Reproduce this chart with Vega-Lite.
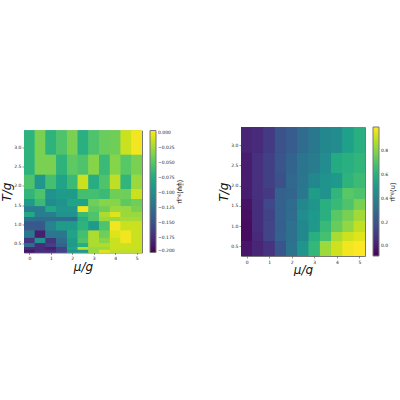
{"$schema":"https://vega.github.io/schema/vega-lite/v6.json","background":"white","padding":{"left":0,"top":126,"right":0,"bottom":0},"autosize":{"type":"pad"},"spacing":32,"center":true,
"config":{"view":{"stroke":"#777","strokeWidth":1},"axis":{"grid":false,"labelFontSize":4.5,"labelFont":"DejaVu Sans","tickSize":2,"tickWidth":0.5,"tickColor":"#333","labelColor":"#222","labelPadding":1,"domain":false,"titleFont":"DejaVu Sans","titleFontStyle":"italic","titleFontWeight":"normal","titleColor":"#111"},"legend":{"gradientThickness":6,"labelFontSize":4.5,"labelFont":"DejaVu Sans","labelColor":"#222","offset":8,"padding":0,"titleOrient":"right","titleFont":"DejaVu Sans","titleFontWeight":"normal","titleFontSize":7,"titleColor":"#111","gradientStrokeColor":"#777","gradientStrokeWidth":1,"labelOffset":4,"titlePadding":2}},
"hconcat":[
{"width":118,"height":122,"data":{"values":[
{"m0":-0.25,"m1":0.25,"t0":2.81,"t1":3.44,"v":-0.067},{"m0":0.25,"m1":0.75,"t0":2.81,"t1":3.44,"v":-0.036},{"m0":0.75,"m1":1.25,"t0":2.81,"t1":3.44,"v":-0.067},{"m0":1.25,"m1":1.75,"t0":2.81,"t1":3.44,"v":-0.052},{"m0":1.75,"m1":2.25,"t0":2.81,"t1":3.44,"v":-0.036},{"m0":2.25,"m1":2.75,"t0":2.81,"t1":3.44,"v":-0.071},{"m0":2.75,"m1":3.25,"t0":2.81,"t1":3.44,"v":-0.052},{"m0":3.25,"m1":3.75,"t0":2.81,"t1":3.44,"v":-0.042},{"m0":3.75,"m1":4.25,"t0":2.81,"t1":3.44,"v":-0.04},{"m0":4.25,"m1":4.75,"t0":2.81,"t1":3.44,"v":-0.011},{"m0":4.75,"m1":5.25,"t0":2.81,"t1":3.44,"v":0.001},
{"m0":-0.25,"m1":0.25,"t0":2.29,"t1":2.81,"v":-0.067},{"m0":0.25,"m1":0.75,"t0":2.29,"t1":2.81,"v":-0.036},{"m0":0.75,"m1":1.25,"t0":2.29,"t1":2.81,"v":-0.036},{"m0":1.25,"m1":1.75,"t0":2.29,"t1":2.81,"v":-0.067},{"m0":1.75,"m1":2.25,"t0":2.29,"t1":2.81,"v":-0.046},{"m0":2.25,"m1":2.75,"t0":2.29,"t1":2.81,"v":-0.052},{"m0":2.75,"m1":3.25,"t0":2.29,"t1":2.81,"v":-0.032},{"m0":3.25,"m1":3.75,"t0":2.29,"t1":2.81,"v":-0.061},{"m0":3.75,"m1":4.25,"t0":2.29,"t1":2.81,"v":-0.032},{"m0":4.25,"m1":4.75,"t0":2.29,"t1":2.81,"v":-0.048},{"m0":4.75,"m1":5.25,"t0":2.29,"t1":2.81,"v":-0.036},
{"m0":-0.25,"m1":0.25,"t0":1.92,"t1":2.29,"v":-0.052},{"m0":0.25,"m1":0.75,"t0":1.92,"t1":2.29,"v":-0.093},{"m0":0.75,"m1":1.25,"t0":1.92,"t1":2.29,"v":-0.056},{"m0":1.25,"m1":1.75,"t0":1.92,"t1":2.29,"v":-0.081},{"m0":1.75,"m1":2.25,"t0":1.92,"t1":2.29,"v":-0.061},{"m0":2.25,"m1":2.75,"t0":1.92,"t1":2.29,"v":-0.011},{"m0":2.75,"m1":3.25,"t0":1.92,"t1":2.29,"v":-0.073},{"m0":3.25,"m1":3.75,"t0":1.92,"t1":2.29,"v":-0.052},{"m0":3.75,"m1":4.25,"t0":1.92,"t1":2.29,"v":-0.015},{"m0":4.25,"m1":4.75,"t0":1.92,"t1":2.29,"v":-0.065},{"m0":4.75,"m1":5.25,"t0":1.92,"t1":2.29,"v":-0.026},
{"m0":-0.25,"m1":0.25,"t0":1.66,"t1":1.92,"v":-0.065},{"m0":0.25,"m1":0.75,"t0":1.66,"t1":1.92,"v":-0.052},{"m0":0.75,"m1":1.25,"t0":1.66,"t1":1.92,"v":-0.097},{"m0":1.25,"m1":1.75,"t0":1.66,"t1":1.92,"v":-0.087},{"m0":1.75,"m1":2.25,"t0":1.66,"t1":1.92,"v":-0.087},{"m0":2.25,"m1":2.75,"t0":1.66,"t1":1.92,"v":-0.056},{"m0":2.75,"m1":3.25,"t0":1.66,"t1":1.92,"v":-0.056},{"m0":3.25,"m1":3.75,"t0":1.66,"t1":1.92,"v":-0.061},{"m0":3.75,"m1":4.25,"t0":1.66,"t1":1.92,"v":-0.04},{"m0":4.25,"m1":4.75,"t0":1.66,"t1":1.92,"v":-0.04},{"m0":4.75,"m1":5.25,"t0":1.66,"t1":1.92,"v":-0.011},
{"m0":-0.25,"m1":0.25,"t0":1.47,"t1":1.66,"v":-0.087},{"m0":0.25,"m1":0.75,"t0":1.47,"t1":1.66,"v":-0.061},{"m0":0.75,"m1":1.25,"t0":1.47,"t1":1.66,"v":-0.102},{"m0":1.25,"m1":1.75,"t0":1.47,"t1":1.66,"v":-0.097},{"m0":1.75,"m1":2.25,"t0":1.47,"t1":1.66,"v":-0.081},{"m0":2.25,"m1":2.75,"t0":1.47,"t1":1.66,"v":-0.081},{"m0":2.75,"m1":3.25,"t0":1.47,"t1":1.66,"v":-0.04},{"m0":3.25,"m1":3.75,"t0":1.47,"t1":1.66,"v":-0.032},{"m0":3.75,"m1":4.25,"t0":1.47,"t1":1.66,"v":-0.032},{"m0":4.25,"m1":4.75,"t0":1.47,"t1":1.66,"v":-0.046},{"m0":4.75,"m1":5.25,"t0":1.47,"t1":1.66,"v":-0.04},
{"m0":-0.25,"m1":0.25,"t0":1.32,"t1":1.47,"v":-0.114},{"m0":0.25,"m1":0.75,"t0":1.32,"t1":1.47,"v":-0.114},{"m0":0.75,"m1":1.25,"t0":1.32,"t1":1.47,"v":-0.077},{"m0":1.25,"m1":1.75,"t0":1.32,"t1":1.47,"v":-0.093},{"m0":1.75,"m1":2.25,"t0":1.32,"t1":1.47,"v":-0.093},{"m0":2.25,"m1":2.75,"t0":1.32,"t1":1.47,"v":0.001},{"m0":2.75,"m1":3.25,"t0":1.32,"t1":1.47,"v":-0.046},{"m0":3.25,"m1":3.75,"t0":1.32,"t1":1.47,"v":-0.04},{"m0":3.75,"m1":4.25,"t0":1.32,"t1":1.47,"v":-0.026},{"m0":4.25,"m1":4.75,"t0":1.32,"t1":1.47,"v":-0.026},{"m0":4.75,"m1":5.25,"t0":1.32,"t1":1.47,"v":-0.036},
{"m0":-0.25,"m1":0.25,"t0":1.19,"t1":1.32,"v":-0.077},{"m0":0.25,"m1":0.75,"t0":1.19,"t1":1.32,"v":-0.114},{"m0":0.75,"m1":1.25,"t0":1.19,"t1":1.32,"v":-0.114},{"m0":1.25,"m1":1.75,"t0":1.19,"t1":1.32,"v":-0.097},{"m0":1.75,"m1":2.25,"t0":1.19,"t1":1.32,"v":-0.097},{"m0":2.25,"m1":2.75,"t0":1.19,"t1":1.32,"v":-0.061},{"m0":2.75,"m1":3.25,"t0":1.19,"t1":1.32,"v":-0.052},{"m0":3.25,"m1":3.75,"t0":1.19,"t1":1.32,"v":-0.02},{"m0":3.75,"m1":4.25,"t0":1.19,"t1":1.32,"v":-0.005},{"m0":4.25,"m1":4.75,"t0":1.19,"t1":1.32,"v":-0.026},{"m0":4.75,"m1":5.25,"t0":1.19,"t1":1.32,"v":-0.026},
{"m0":-0.25,"m1":0.25,"t0":1.08,"t1":1.19,"v":-0.124},{"m0":0.25,"m1":0.75,"t0":1.08,"t1":1.19,"v":-0.128},{"m0":0.75,"m1":1.25,"t0":1.08,"t1":1.19,"v":-0.128},{"m0":1.25,"m1":1.75,"t0":1.08,"t1":1.19,"v":-0.128},{"m0":1.75,"m1":2.25,"t0":1.08,"t1":1.19,"v":-0.128},{"m0":2.25,"m1":2.75,"t0":1.08,"t1":1.19,"v":-0.073},{"m0":2.75,"m1":3.25,"t0":1.08,"t1":1.19,"v":-0.052},{"m0":3.25,"m1":3.75,"t0":1.08,"t1":1.19,"v":-0.026},{"m0":3.75,"m1":4.25,"t0":1.08,"t1":1.19,"v":-0.026},{"m0":4.25,"m1":4.75,"t0":1.08,"t1":1.19,"v":-0.022},{"m0":4.75,"m1":5.25,"t0":1.08,"t1":1.19,"v":-0.022},
{"m0":-0.25,"m1":0.25,"t0":0.84,"t1":1.08,"v":-0.143},{"m0":0.25,"m1":0.75,"t0":0.84,"t1":1.08,"v":-0.143},{"m0":0.75,"m1":1.25,"t0":0.84,"t1":1.08,"v":-0.108},{"m0":1.25,"m1":1.75,"t0":0.84,"t1":1.08,"v":-0.087},{"m0":1.75,"m1":2.25,"t0":0.84,"t1":1.08,"v":-0.087},{"m0":2.25,"m1":2.75,"t0":0.84,"t1":1.08,"v":-0.067},{"m0":2.75,"m1":3.25,"t0":0.84,"t1":1.08,"v":-0.087},{"m0":3.25,"m1":3.75,"t0":0.84,"t1":1.08,"v":-0.052},{"m0":3.75,"m1":4.25,"t0":0.84,"t1":1.08,"v":0.001},{"m0":4.25,"m1":4.75,"t0":0.84,"t1":1.08,"v":-0.011},{"m0":4.75,"m1":5.25,"t0":0.84,"t1":1.08,"v":-0.011},
{"m0":-0.25,"m1":0.25,"t0":0.65,"t1":0.84,"v":-0.118},{"m0":0.25,"m1":0.75,"t0":0.65,"t1":0.84,"v":-0.184},{"m0":0.75,"m1":1.25,"t0":0.65,"t1":0.84,"v":-0.118},{"m0":1.25,"m1":1.75,"t0":0.65,"t1":0.84,"v":-0.118},{"m0":1.75,"m1":2.25,"t0":0.65,"t1":0.84,"v":-0.081},{"m0":2.25,"m1":2.75,"t0":0.65,"t1":0.84,"v":-0.056},{"m0":2.75,"m1":3.25,"t0":0.65,"t1":0.84,"v":-0.02},{"m0":3.25,"m1":3.75,"t0":0.65,"t1":0.84,"v":-0.04},{"m0":3.75,"m1":4.25,"t0":0.65,"t1":0.84,"v":-0.005},{"m0":4.25,"m1":4.75,"t0":0.65,"t1":0.84,"v":0.001},{"m0":4.75,"m1":5.25,"t0":0.65,"t1":0.84,"v":-0.011},
{"m0":-0.25,"m1":0.25,"t0":0.51,"t1":0.65,"v":-0.169},{"m0":0.25,"m1":0.75,"t0":0.51,"t1":0.65,"v":-0.097},{"m0":0.75,"m1":1.25,"t0":0.51,"t1":0.65,"v":-0.169},{"m0":1.25,"m1":1.75,"t0":0.51,"t1":0.65,"v":-0.128},{"m0":1.75,"m1":2.25,"t0":0.51,"t1":0.65,"v":-0.087},{"m0":2.25,"m1":2.75,"t0":0.51,"t1":0.65,"v":-0.052},{"m0":2.75,"m1":3.25,"t0":0.51,"t1":0.65,"v":-0.02},{"m0":3.25,"m1":3.75,"t0":0.51,"t1":0.65,"v":-0.032},{"m0":3.75,"m1":4.25,"t0":0.51,"t1":0.65,"v":-0.011},{"m0":4.25,"m1":4.75,"t0":0.51,"t1":0.65,"v":0.001},{"m0":4.75,"m1":5.25,"t0":0.51,"t1":0.65,"v":-0.011},
{"m0":-0.25,"m1":0.25,"t0":0.41,"t1":0.51,"v":-0.128},{"m0":0.25,"m1":0.75,"t0":0.41,"t1":0.51,"v":-0.175},{"m0":0.75,"m1":1.25,"t0":0.41,"t1":0.51,"v":-0.163},{"m0":1.25,"m1":1.75,"t0":0.41,"t1":0.51,"v":-0.138},{"m0":1.75,"m1":2.25,"t0":0.41,"t1":0.51,"v":-0.087},{"m0":2.25,"m1":2.75,"t0":0.41,"t1":0.51,"v":-0.073},{"m0":2.75,"m1":3.25,"t0":0.41,"t1":0.51,"v":-0.02},{"m0":3.25,"m1":3.75,"t0":0.41,"t1":0.51,"v":-0.02},{"m0":3.75,"m1":4.25,"t0":0.41,"t1":0.51,"v":-0.011},{"m0":4.25,"m1":4.75,"t0":0.41,"t1":0.51,"v":-0.011},{"m0":4.75,"m1":5.25,"t0":0.41,"t1":0.51,"v":-0.011},
{"m0":-0.25,"m1":0.25,"t0":0.34,"t1":0.41,"v":-0.175},{"m0":0.25,"m1":0.75,"t0":0.34,"t1":0.41,"v":-0.175},{"m0":0.75,"m1":1.25,"t0":0.34,"t1":0.41,"v":-0.184},{"m0":1.25,"m1":1.75,"t0":0.34,"t1":0.41,"v":-0.159},{"m0":1.75,"m1":2.25,"t0":0.34,"t1":0.41,"v":-0.081},{"m0":2.25,"m1":2.75,"t0":0.34,"t1":0.41,"v":-0.015},{"m0":2.75,"m1":3.25,"t0":0.34,"t1":0.41,"v":-0.026},{"m0":3.25,"m1":3.75,"t0":0.34,"t1":0.41,"v":-0.026},{"m0":3.75,"m1":4.25,"t0":0.34,"t1":0.41,"v":-0.011},{"m0":4.25,"m1":4.75,"t0":0.34,"t1":0.41,"v":-0.011},{"m0":4.75,"m1":5.25,"t0":0.34,"t1":0.41,"v":-0.011},
{"m0":-0.25,"m1":0.25,"t0":0.27,"t1":0.34,"v":-0.19},{"m0":0.25,"m1":0.75,"t0":0.27,"t1":0.34,"v":-0.175},{"m0":0.75,"m1":1.25,"t0":0.27,"t1":0.34,"v":-0.175},{"m0":1.25,"m1":1.75,"t0":0.27,"t1":0.34,"v":-0.159},{"m0":1.75,"m1":2.25,"t0":0.27,"t1":0.34,"v":-0.097},{"m0":2.25,"m1":2.75,"t0":0.27,"t1":0.34,"v":-0.087},{"m0":2.75,"m1":3.25,"t0":0.27,"t1":0.34,"v":-0.026},{"m0":3.25,"m1":3.75,"t0":0.27,"t1":0.34,"v":-0.005},{"m0":3.75,"m1":4.25,"t0":0.27,"t1":0.34,"v":-0.015},{"m0":4.25,"m1":4.75,"t0":0.27,"t1":0.34,"v":-0.015},{"m0":4.75,"m1":5.25,"t0":0.27,"t1":0.34,"v":-0.015}
]},
"encoding":{
"x":{"field":"m0","type":"quantitative","scale":{"domain":[-0.25,5.25],"nice":false,"zero":false},"axis":{"values":[0,1,2,3,4,5],"format":"d","title":"μ/g","titleFontSize":12,"titlePadding":1}},
"x2":{"field":"m1"},
"y":{"field":"t0","type":"quantitative","scale":{"domain":[0.27,3.44],"nice":false,"zero":false},"axis":{"values":[0.5,1,1.5,2,2.5,3],"format":".1f","title":"T/g","titleFontSize":12,"titlePadding":0}},
"y2":{"field":"t1"},
"color":{"field":"v","type":"quantitative","scale":{"scheme":"viridis","domain":[-0.2,0.005]},"legend":{"values":[0,-0.025,-0.05,-0.075,-0.1,-0.125,-0.15,-0.175,-0.2],"format":".3f","gradientLength":122,"title":"⟨ψ̄ψ⟩ᵦ,μ","encoding":{"title":{"update":{"angle":{"value":-90}}}}}}
},
"layer":[{"mark":{"type":"rect"}},{"mark":{"type":"rect"}},{"mark":{"type":"rect"}}]},
{"width":124,"height":129,"data":{"values":[
{"m0":-0.25,"m1":0.25,"t0":2.81,"t1":3.45,"v":0.03},{"m0":0.25,"m1":0.75,"t0":2.81,"t1":3.45,"v":0.05},{"m0":0.75,"m1":1.25,"t0":2.81,"t1":3.45,"v":0.1},{"m0":1.25,"m1":1.75,"t0":2.81,"t1":3.45,"v":0.19},{"m0":1.75,"m1":2.25,"t0":2.81,"t1":3.45,"v":0.23},{"m0":2.25,"m1":2.75,"t0":2.81,"t1":3.45,"v":0.3},{"m0":2.75,"m1":3.25,"t0":2.81,"t1":3.45,"v":0.35},{"m0":3.25,"m1":3.75,"t0":2.81,"t1":3.45,"v":0.42},{"m0":3.75,"m1":4.25,"t0":2.81,"t1":3.45,"v":0.44},{"m0":4.25,"m1":4.75,"t0":2.81,"t1":3.45,"v":0.53},{"m0":4.75,"m1":5.25,"t0":2.81,"t1":3.45,"v":0.6},
{"m0":-0.25,"m1":0.25,"t0":2.31,"t1":2.81,"v":0},{"m0":0.25,"m1":0.75,"t0":2.31,"t1":2.81,"v":0.07},{"m0":0.75,"m1":1.25,"t0":2.31,"t1":2.81,"v":0.12},{"m0":1.25,"m1":1.75,"t0":2.31,"t1":2.81,"v":0.2},{"m0":1.75,"m1":2.25,"t0":2.31,"t1":2.81,"v":0.26},{"m0":2.25,"m1":2.75,"t0":2.31,"t1":2.81,"v":0.34},{"m0":2.75,"m1":3.25,"t0":2.31,"t1":2.81,"v":0.37},{"m0":3.25,"m1":3.75,"t0":2.31,"t1":2.81,"v":0.44},{"m0":3.75,"m1":4.25,"t0":2.31,"t1":2.81,"v":0.58},{"m0":4.25,"m1":4.75,"t0":2.31,"t1":2.81,"v":0.6},{"m0":4.75,"m1":5.25,"t0":2.31,"t1":2.81,"v":0.63},
{"m0":-0.25,"m1":0.25,"t0":1.94,"t1":2.31,"v":0},{"m0":0.25,"m1":0.75,"t0":1.94,"t1":2.31,"v":0.07},{"m0":0.75,"m1":1.25,"t0":1.94,"t1":2.31,"v":0.12},{"m0":1.25,"m1":1.75,"t0":1.94,"t1":2.31,"v":0.18},{"m0":1.75,"m1":2.25,"t0":1.94,"t1":2.31,"v":0.28},{"m0":2.25,"m1":2.75,"t0":1.94,"t1":2.31,"v":0.34},{"m0":2.75,"m1":3.25,"t0":1.94,"t1":2.31,"v":0.42},{"m0":3.25,"m1":3.75,"t0":1.94,"t1":2.31,"v":0.47},{"m0":3.75,"m1":4.25,"t0":1.94,"t1":2.31,"v":0.5},{"m0":4.25,"m1":4.75,"t0":1.94,"t1":2.31,"v":0.62},{"m0":4.75,"m1":5.25,"t0":1.94,"t1":2.31,"v":0.66},
{"m0":-0.25,"m1":0.25,"t0":1.67,"t1":1.94,"v":0},{"m0":0.25,"m1":0.75,"t0":1.67,"t1":1.94,"v":0.07},{"m0":0.75,"m1":1.25,"t0":1.67,"t1":1.94,"v":0.1},{"m0":1.25,"m1":1.75,"t0":1.67,"t1":1.94,"v":0.25},{"m0":1.75,"m1":2.25,"t0":1.67,"t1":1.94,"v":0.27},{"m0":2.25,"m1":2.75,"t0":1.67,"t1":1.94,"v":0.35},{"m0":2.75,"m1":3.25,"t0":1.67,"t1":1.94,"v":0.52},{"m0":3.25,"m1":3.75,"t0":1.67,"t1":1.94,"v":0.47},{"m0":3.75,"m1":4.25,"t0":1.67,"t1":1.94,"v":0.63},{"m0":4.25,"m1":4.75,"t0":1.67,"t1":1.94,"v":0.72},{"m0":4.75,"m1":5.25,"t0":1.67,"t1":1.94,"v":0.7},
{"m0":-0.25,"m1":0.25,"t0":1.4,"t1":1.67,"v":-0.03},{"m0":0.25,"m1":0.75,"t0":1.4,"t1":1.67,"v":0.06},{"m0":0.75,"m1":1.25,"t0":1.4,"t1":1.67,"v":0.15},{"m0":1.25,"m1":1.75,"t0":1.4,"t1":1.67,"v":0.25},{"m0":1.75,"m1":2.25,"t0":1.4,"t1":1.67,"v":0.3},{"m0":2.25,"m1":2.75,"t0":1.4,"t1":1.67,"v":0.42},{"m0":2.75,"m1":3.25,"t0":1.4,"t1":1.67,"v":0.48},{"m0":3.25,"m1":3.75,"t0":1.4,"t1":1.67,"v":0.6},{"m0":3.75,"m1":4.25,"t0":1.4,"t1":1.67,"v":0.65},{"m0":4.25,"m1":4.75,"t0":1.4,"t1":1.67,"v":0.7},{"m0":4.75,"m1":5.25,"t0":1.4,"t1":1.67,"v":0.78},
{"m0":-0.25,"m1":0.25,"t0":1.13,"t1":1.4,"v":-0.04},{"m0":0.25,"m1":0.75,"t0":1.13,"t1":1.4,"v":0.06},{"m0":0.75,"m1":1.25,"t0":1.13,"t1":1.4,"v":0.13},{"m0":1.25,"m1":1.75,"t0":1.13,"t1":1.4,"v":0.25},{"m0":1.75,"m1":2.25,"t0":1.13,"t1":1.4,"v":0.3},{"m0":2.25,"m1":2.75,"t0":1.13,"t1":1.4,"v":0.44},{"m0":2.75,"m1":3.25,"t0":1.13,"t1":1.4,"v":0.5},{"m0":3.25,"m1":3.75,"t0":1.13,"t1":1.4,"v":0.6},{"m0":3.75,"m1":4.25,"t0":1.13,"t1":1.4,"v":0.72},{"m0":4.25,"m1":4.75,"t0":1.13,"t1":1.4,"v":0.78},{"m0":4.75,"m1":5.25,"t0":1.13,"t1":1.4,"v":0.85},
{"m0":-0.25,"m1":0.25,"t0":0.85,"t1":1.13,"v":-0.05},{"m0":0.25,"m1":0.75,"t0":0.85,"t1":1.13,"v":0.06},{"m0":0.75,"m1":1.25,"t0":0.85,"t1":1.13,"v":0.14},{"m0":1.25,"m1":1.75,"t0":0.85,"t1":1.13,"v":0.24},{"m0":1.75,"m1":2.25,"t0":0.85,"t1":1.13,"v":0.32},{"m0":2.25,"m1":2.75,"t0":0.85,"t1":1.13,"v":0.42},{"m0":2.75,"m1":3.25,"t0":0.85,"t1":1.13,"v":0.5},{"m0":3.25,"m1":3.75,"t0":0.85,"t1":1.13,"v":0.65},{"m0":3.75,"m1":4.25,"t0":0.85,"t1":1.13,"v":0.75},{"m0":4.25,"m1":4.75,"t0":0.85,"t1":1.13,"v":0.82},{"m0":4.75,"m1":5.25,"t0":0.85,"t1":1.13,"v":0.9},
{"m0":-0.25,"m1":0.25,"t0":0.63,"t1":0.85,"v":-0.05},{"m0":0.25,"m1":0.75,"t0":0.63,"t1":0.85,"v":0.05},{"m0":0.75,"m1":1.25,"t0":0.63,"t1":0.85,"v":0.14},{"m0":1.25,"m1":1.75,"t0":0.63,"t1":0.85,"v":0.25},{"m0":1.75,"m1":2.25,"t0":0.63,"t1":0.85,"v":0.32},{"m0":2.25,"m1":2.75,"t0":0.63,"t1":0.85,"v":0.42},{"m0":2.75,"m1":3.25,"t0":0.63,"t1":0.85,"v":0.6},{"m0":3.25,"m1":3.75,"t0":0.63,"t1":0.85,"v":0.68},{"m0":3.75,"m1":4.25,"t0":0.63,"t1":0.85,"v":0.86},{"m0":4.25,"m1":4.75,"t0":0.63,"t1":0.85,"v":0.92},{"m0":4.75,"m1":5.25,"t0":0.63,"t1":0.85,"v":0.95},
{"m0":-0.25,"m1":0.25,"t0":0.26,"t1":0.63,"v":-0.02},{"m0":0.25,"m1":0.75,"t0":0.26,"t1":0.63,"v":0.03},{"m0":0.75,"m1":1.25,"t0":0.26,"t1":0.63,"v":0.08},{"m0":1.25,"m1":1.75,"t0":0.26,"t1":0.63,"v":0.2},{"m0":1.75,"m1":2.25,"t0":0.26,"t1":0.63,"v":0.33},{"m0":2.25,"m1":2.75,"t0":0.26,"t1":0.63,"v":0.48},{"m0":2.75,"m1":3.25,"t0":0.26,"t1":0.63,"v":0.64},{"m0":3.25,"m1":3.75,"t0":0.26,"t1":0.63,"v":0.84},{"m0":3.75,"m1":4.25,"t0":0.26,"t1":0.63,"v":0.92},{"m0":4.25,"m1":4.75,"t0":0.26,"t1":0.63,"v":0.98},{"m0":4.75,"m1":5.25,"t0":0.26,"t1":0.63,"v":1.0}
]},
"encoding":{
"x":{"field":"m0","type":"quantitative","scale":{"domain":[-0.25,5.25],"nice":false,"zero":false},"axis":{"values":[0,1,2,3,4,5],"format":"d","title":"μ/g","titleFontSize":12,"titlePadding":1}},
"x2":{"field":"m1"},
"y":{"field":"t0","type":"quantitative","scale":{"domain":[0.26,3.45],"nice":false,"zero":false},"axis":{"values":[0.5,1,1.5,2,2.5,3],"format":".1f","title":"T/g","titleFontSize":12,"titlePadding":0}},
"y2":{"field":"t1"},
"color":{"field":"v","type":"quantitative","scale":{"scheme":"viridis","domain":[-0.08,1.0]},"legend":{"values":[0,0.2,0.4,0.6,0.8],"format":".1f","gradientLength":129,"title":"⟨n⟩ᵦ,μ","encoding":{"title":{"update":{"angle":{"value":-90}}}}}}
},
"layer":[{"mark":{"type":"rect"}},{"mark":{"type":"rect"}},{"mark":{"type":"rect"}}]}
],"resolve":{"scale":{"color":"independent"}}}
